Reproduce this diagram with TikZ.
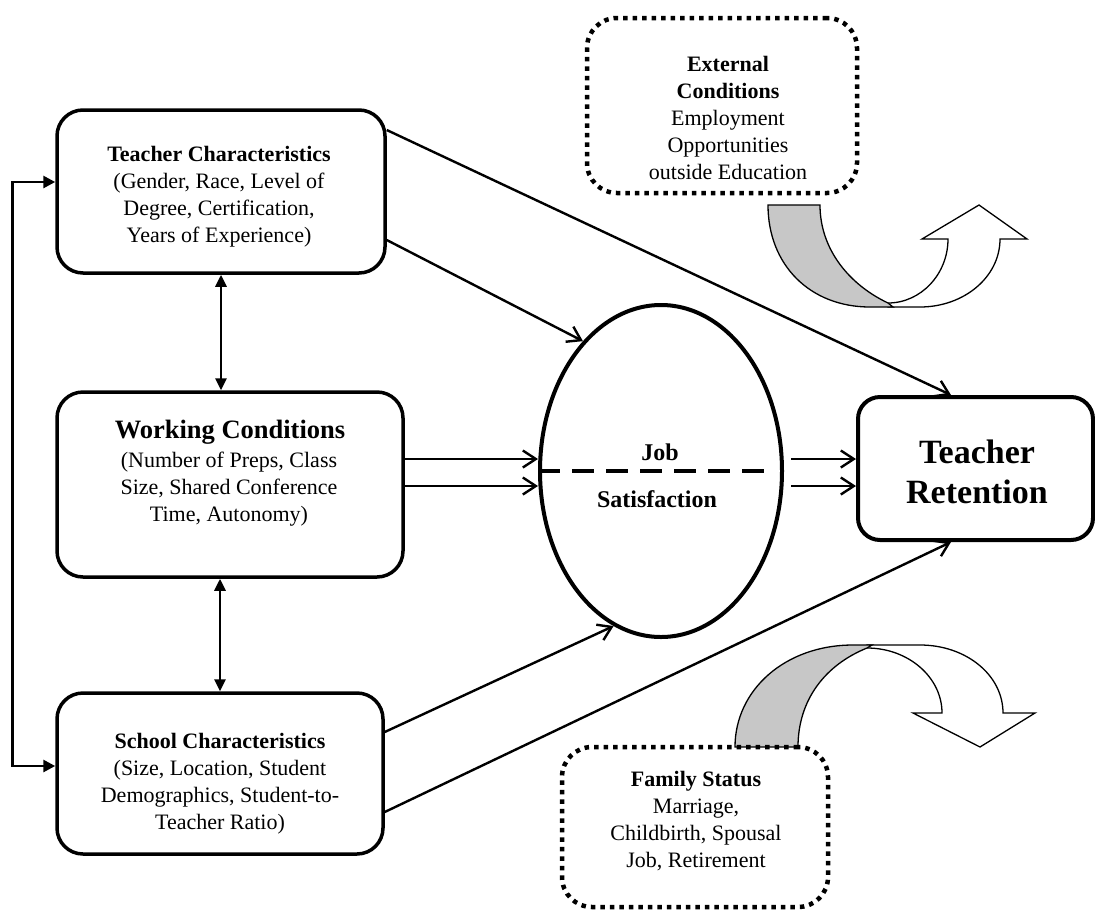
\documentclass[tikz,border=0pt]{standalone}
\usepackage{fontspec}
\setmainfont{Liberation Serif}
\usetikzlibrary{shapes.geometric,arrows.meta,calc}

\begin{document}
\begin{tikzpicture}[x=1pt,y=-1pt,
  box/.style={draw, line width=3.5pt, rounded corners=26pt, inner sep=0pt},
  dotbox/.style={draw, line width=4.5pt, dash pattern=on 4.5pt off 5pt, rounded corners=30pt, inner sep=0pt},
  body/.style={align=center, inner sep=0pt, font=\fontsize{22}{27}\selectfont},
  link/.style={line width=2.4pt, -{Straight Barb[length=13pt,width=17pt]}},
  bothway/.style={line width=2.8pt, {Triangle[length=12pt,width=11pt]}-{Triangle[length=12pt,width=11pt]}},
  band/.style={draw, line width=1.3pt, line join=miter},
]
\useasboundingbox (0,0) rectangle (1095,911);

% curved arrows for the outside influences
\filldraw[band, fill=white] (888,303) .. controls (921,303) and (948,274) .. (948,239) -- (922,239) -- (979,205) -- (1027,239) -- (1000,239) .. controls (1000,277) and (964,307) .. (920,307) -- (888,307) -- cycle;
\filldraw[band, fill=black!22] (768,205) .. controls (768,265) and (810,307) .. (870,307) -- (893,307) -- (888,303) .. controls (850,285) and (820,250) .. (820,205) -- cycle;
\filldraw[band, fill=white] (867,648) .. controls (908,648) and (942,677) .. (942,713) -- (913,713) -- (980,747) -- (1035,713) -- (1003,713) .. controls (1003,675) and (966,645) .. (920,645) -- (867,645) -- cycle;
\filldraw[band, fill=black!22] (735,747) .. controls (735,690) and (785,645) .. (853,645) -- (872,645) -- (867,648) .. controls (825,665) and (798,700) .. (798,747) -- cycle;

% boxes
\node[box, minimum width=328pt, minimum height=163pt] (tc) at (221,191.5) {};
\node[box, minimum width=346pt, minimum height=185pt] (wc) at (230,484.5) {};
\node[box, minimum width=326pt, minimum height=161pt] (sc) at (220,773.5) {};
\node[box, line width=4pt, rounded corners=22pt, minimum width=235pt, minimum height=143pt] (tr) at (975.5,468.5) {};
\node[draw, ellipse, line width=4pt, minimum width=242pt, minimum height=332pt, inner sep=0pt] (js) at (661,471) {};
\node[dotbox, minimum width=270pt, minimum height=175pt] (ec) at (722,105.5) {};
\node[dotbox, minimum width=266pt, minimum height=160pt] (fs) at (695,827) {};

% texts
\node[body] (tct) at (219,196.25) {\textbf{Teacher Characteristics}\\(Gender, Race, Level of\\Degree, Certification,\\Years of Experience)};
\node[anchor=base, inner sep=0pt, font=\fontsize{26.5}{29}\selectfont\bfseries] (wct) at (230,438) {Working Conditions};
\node[body] (wcb) at (229,488.75) {(Number of Preps, Class\\Size, Shared Conference\\Time, Autonomy)};
\node[body] (sct) at (220,783.75) {\textbf{School Characteristics}\\(Size, Location, Student\\Demographics, Student-to-\\Teacher Ratio)};
\node[anchor=base, inner sep=0pt, font=\fontsize{24}{27}\selectfont\bfseries] (job) at (660,460) {Job};
\node[anchor=base, inner sep=0pt, font=\fontsize{24}{27}\selectfont\bfseries] (sat) at (657,507) {Satisfaction};
\node[align=center, inner sep=0pt, font=\fontsize{34}{40}\selectfont\bfseries] (trt) at (977,471.5) {Teacher\\Retention};
\node[body] (ect) at (728,118.25) {\textbf{External}\\\textbf{Conditions}\\Employment\\Opportunities\\outside Education};
\node[body] (fst) at (696,820.75) {\textbf{Family Status}\\Marriage,\\Childbirth, Spousal\\Job, Retirement};

% dividing line of the ellipse
\draw[line width=4pt, dash pattern=on 22pt off 12pt] (js.west) -- ($(js.east)+(-10,0)$);

% connectors
\coordinate (w1) at ([yshift=25.5pt]wc.east);
\coordinate (w2) at ([yshift=-1.5pt]wc.east);
\coordinate (r1) at ([shift={(7pt,12pt)}]js.east);
\coordinate (r2) at ([shift={(7pt,-15pt)}]js.east);

\draw[link] ([yshift=61.5pt]tc.east) -- ([xshift=95pt]tr.north west);
\draw[link] ([yshift=-48.5pt]tc.east) -- (js.121);
\draw[link] (w1) -- (w1 -| js.west);
\draw[link] (w2) -- (w2 -| js.west);
\draw[link] (r1) -- (r1 -| tr.west);
\draw[link] (r2) -- (r2 -| tr.west);
\draw[link] ([yshift=41.5pt]sc.east) -- (js.253);
\draw[link] ([yshift=-38.5pt]sc.east) -- ([xshift=95pt]tr.south west);

\draw[bothway] (tc.south) -- (tc.south |- wc.north);
\draw[bothway] (sc.north |- wc.south) -- (sc.north);
\draw[line width=2.8pt, {Triangle[length=12pt,width=12pt]}-{Triangle[length=12pt,width=12pt]}]
  ([yshift=9.5pt]tc.west) -- ++(-43,0) |- ([yshift=7.5pt]sc.west);
\end{tikzpicture}
\end{document}
